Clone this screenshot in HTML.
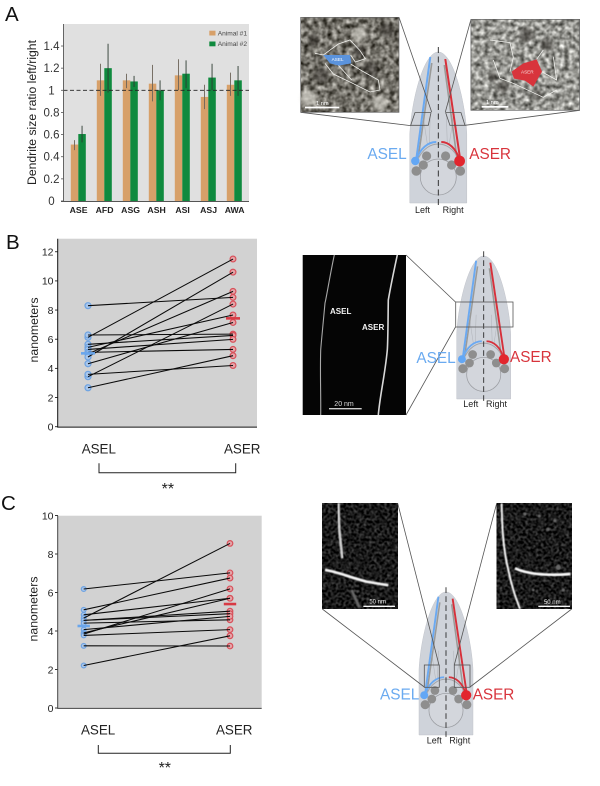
<!DOCTYPE html>
<html lang="en">
<head>
<meta charset="utf-8">
<title>ASEL and ASER dendrite size comparison</title>
<style>
html,body{margin:0;padding:0;background:#fff;width:600px;height:786px;overflow:hidden}
svg{display:block;font-family:"Liberation Sans",sans-serif;filter:blur(0.3px)}
</style>
</head>
<body>
<svg id="fig" width="600" height="786" viewBox="0 0 600 786">
<defs>
<filter id="emLeft" x="0" y="0" width="100%" height="100%" color-interpolation-filters="sRGB">
<feTurbulence type="fractalNoise" baseFrequency="0.07" numOctaves="3" seed="4"/>
<feColorMatrix values="1 0 0 0 0  1 0 0 0 0  1 0 0 0 0  0 0 0 0 1"/>
<feGaussianBlur stdDeviation="1.2"/>
<feColorMatrix values="1.15 0 0 0 -0.12  1.15 0 0 0 -0.13  1.15 0 0 0 -0.16  0 0 0 0 1"/>
</filter>
<filter id="emRight" x="0" y="0" width="100%" height="100%" color-interpolation-filters="sRGB">
<feTurbulence type="fractalNoise" baseFrequency="0.075" numOctaves="3" seed="11"/>
<feColorMatrix values="1 0 0 0 0  1 0 0 0 0  1 0 0 0 0  0 0 0 0 1"/>
<feGaussianBlur stdDeviation="1.2"/>
<feColorMatrix values="1.15 0 0 0 0.02  1.15 0 0 0 0.02  1.15 0 0 0 0  0 0 0 0 1"/>
</filter>
<filter id="emDark" x="0" y="0" width="100%" height="100%" color-interpolation-filters="sRGB">
<feTurbulence type="fractalNoise" baseFrequency="0.13" numOctaves="2" seed="7"/>
<feColorMatrix values="1 0 0 0 0  1 0 0 0 0  1 0 0 0 0  0 0 0 0 1"/>
<feGaussianBlur stdDeviation="1.2"/>
<feColorMatrix values="0.8 0 0 0 -0.3  0.8 0 0 0 -0.3  0.8 0 0 0 -0.3  0 0 0 0 1"/>
</filter>
<filter id="soft" x="-20%" y="-20%" width="140%" height="140%"><feGaussianBlur stdDeviation="1.4"/></filter>
<filter id="softThin" x="-20%" y="-20%" width="140%" height="140%"><feGaussianBlur stdDeviation="0.35"/></filter>
<filter id="softer" x="-20%" y="-20%" width="140%" height="140%"><feGaussianBlur stdDeviation="5"/></filter>
<g id="worm">
<path d="M-28.5 151 L-28.5 82 C-27 50 -15 0 0 0 C15 0 27 50 28.5 82 L28.5 151 Z" fill="#cfd3da" stroke="#bfc2c8" stroke-width="0.5"/>
<path d="M-8 62 L-9 92 M8 62 L9 92 M-15 62 C-14 75 -12 84 -11 92 M15 62 C14 75 12 84 11 92" fill="none" stroke="#b3b6bc" stroke-width="0.6"/>
<circle cx="0" cy="125" r="18" fill="#d3d6dc" stroke="#9c9ea3" stroke-width="0.8"/>
<path d="M-22 111 C-16 95 -6 92 0 92 C6 92 16 95 22 111" fill="none" stroke="#a2a4a8" stroke-width="1"/>
<path d="M-6.5 11 L-20 105" stroke="#9a9a98" stroke-width="1.6" fill="none"/>
<path d="M6 13 L18.5 105" stroke="#9a9a98" stroke-width="1.6" fill="none"/>
<path d="M-8 5 L-22 107" stroke="#6aa9f2" stroke-width="2" fill="none"/>
<path d="M7 7 L22 108" stroke="#d7303a" stroke-width="2" fill="none"/>
<path d="M-22 108 C-18 96 -10 90 -2 90" stroke="#6aa9f2" stroke-width="1.9" fill="none"/>
<path d="M21 108 C18 96 10 90 3 90" stroke="#d7303a" stroke-width="1.9" fill="none"/>
<g fill="#8e8e8e">
<circle cx="-11.7" cy="104" r="4.6"/><circle cx="-15" cy="113" r="4.6"/><circle cx="-22" cy="119" r="4.8"/>
<circle cx="7.3" cy="104" r="4.6"/><circle cx="13.3" cy="113" r="4.6"/><circle cx="22" cy="119" r="4.8"/>
</g>
<circle cx="-23" cy="109" r="4.2" fill="#63a7f5"/>
<circle cx="21.3" cy="109" r="5.4" fill="#e2262e"/>
<path d="M0 -5 L0 155" stroke="#222" stroke-width="0.9" stroke-dasharray="6 3.5" fill="none"/>
</g>
</defs>

<!-- Panel letters -->
<text x="5" y="21" font-size="20.5" fill="#111">A</text>
<text x="6" y="249" font-size="20.5" fill="#111">B</text>
<text x="1" y="510" font-size="20.5" fill="#111">C</text>

<g id="chartA"></g>
<g id="chartB"></g>
<g id="chartC"></g>

<!-- Panel A diagram -->
<g>
  <use href="#worm" transform="translate(438.3,52)"/>
  <g transform="translate(280,0) scale(0.3333)" fill="none" stroke="#555" stroke-width="2.4">
    <path d="M357 52 L455 336 M62 337 L392 377 M573 58 L496 336 M899 331 L555 376"/>
    <path d="M405 338 L453 338 L445 376 L392 376 Z M497 338 L543 338 L555 376 L510 376 Z"/>
  </g>
  <g transform="translate(280,0) scale(0.3333)">
    <rect x="62" y="52" width="295" height="285" filter="url(#emLeft)"/>
    <rect x="62" y="52" width="295" height="285" fill="none" stroke="#666" stroke-width="2"/>
    <g fill="#2e2c26" opacity="0.5" filter="url(#softer)">
      <circle cx="125" cy="225" r="22"/><circle cx="270" cy="210" r="24"/><circle cx="320" cy="90" r="22"/><circle cx="240" cy="155" r="18"/><circle cx="100" cy="120" r="18"/>
    </g>
    <g fill="#e4e2da" opacity="0.6" filter="url(#softer)">
      <circle cx="85" cy="295" r="24"/><circle cx="300" cy="310" r="22"/><circle cx="240" cy="100" r="20"/>
    </g>
    <path d="M105 160 L130 165 L175 132 L210 120 L240 152 L256 176 L226 186 L212 165 M135 190 L160 222 L210 246 L270 276 L300 270 L295 240 L250 215 L212 192 M175 196 L215 240" fill="none" stroke="#eeeeea" stroke-width="2.4"/>
    <polygon points="130,165 210,165 214,190 176,197 150,190" fill="#5b93dc"/>
    <text x="155" y="183" font-size="14" fill="#fff">ASEL</text>
    <rect x="75" y="320" width="103" height="5" fill="#fff"/>
    <text x="108" y="315" font-size="17" fill="#fff">1 nm</text>
  </g>
  <g transform="translate(280,0) scale(0.3333)">
    <rect x="573" y="58" width="326" height="273" filter="url(#emRight)"/>
    <rect x="573" y="58" width="326" height="273" fill="none" stroke="#666" stroke-width="2"/>
    <g fill="#2e2c26" opacity="0.5" filter="url(#softer)">
      <circle cx="670" cy="260" r="20"/><circle cx="740" cy="105" r="22"/><circle cx="800" cy="135" r="20"/><circle cx="640" cy="230" r="14"/><circle cx="770" cy="285" r="16"/>
    </g>
    <path d="M630 120 L690 128 L700 172 L690 215 M640 180 L660 235 L700 250 L790 292 L830 270 M785 215 L830 240 L820 170 M770 178 L790 150" fill="none" stroke="#f0f0ec" stroke-width="2.4"/>
    <polygon points="695,215 730,190 770,178 786,215 760,260 735,242 702,236" fill="#d8343c"/>
    <text x="723" y="221" font-size="14" fill="#f6dede">ASER</text>
    <rect x="605" y="318" width="80" height="5" fill="#fff"/>
    <text x="618" y="312" font-size="17" fill="#fff">1 nm</text>
  </g>
  <text x="367.4" y="159" font-size="15.4" fill="#6aaaf0">ASEL</text>
  <text x="469.3" y="159" font-size="15.3" fill="#d8343c">ASER</text>
  <text x="415" y="213" font-size="9" fill="#222">Left</text>
  <text x="442.6" y="213" font-size="9" fill="#222">Right</text>
</g>

<!-- Panel B diagram -->
<g>
  <rect x="302.7" y="255" width="103.3" height="160" fill="#050505"/>
  <g fill="none" filter="url(#softThin)">
    <path d="M334.3 255 C330 275 326 300 325 303 C323 325 321 345 320.7 350 C320 375 321 395 320.7 415" stroke="#a8a8a8" stroke-width="1.1"/>
    <path d="M397.3 255 C393 275 390 290 388.3 300 C388 320 388 340 387.3 350 C385 375 380 395 378.3 415" stroke="#d8d8d8" stroke-width="1.6"/>
  </g>
  <text x="330" y="314" font-size="8" font-weight="bold" fill="#f4f4f4">ASEL</text>
  <text x="362" y="330" font-size="8" font-weight="bold" fill="#f4f4f4">ASER</text>
  <rect x="329" y="408" width="32.7" height="1.4" fill="#ccc"/>
  <text x="334.3" y="406" font-size="7" fill="#ddd">20 nm</text>
  <use href="#worm" transform="translate(483.7,256) scale(0.947)"/>
  <g fill="none" stroke="#555" stroke-width="0.8">
    <path d="M406 255 L455.5 302 M406 415 L455.5 327"/>
    <rect x="455.7" y="302" width="57.3" height="25"/>
  </g>
  <text x="416.4" y="363" font-size="15.4" fill="#6aaaf0">ASEL</text>
  <text x="510" y="362" font-size="15.3" fill="#d8343c">ASER</text>
  <text x="463.3" y="407" font-size="9" fill="#222">Left</text>
  <text x="486" y="407" font-size="9" fill="#222">Right</text>
</g>

<!-- Panel C diagram -->
<g>
  <g transform="translate(300,490) scale(0.3333)">
    <rect x="67" y="40" width="226" height="317" filter="url(#emDark)"/>
    <path d="M115 40 L118 120 L127 205" fill="none" stroke="#eee" stroke-width="8" filter="url(#soft)" opacity="0.85"/>
    <path d="M75 240 C110 245 150 262 200 275 L265 286" fill="none" stroke="#f5f5f5" stroke-width="8" filter="url(#soft)"/>
    <path d="M155 300 L178 352" fill="none" stroke="#666" stroke-width="8" filter="url(#soft)"/>
    <rect x="190" y="347" width="95" height="4" fill="#fff"/>
    <text x="208" y="340" font-size="18" fill="#eee">50 nm</text>
  </g>
  <g transform="translate(300,490) scale(0.3333)">
    <rect x="590" y="40" width="225" height="317" filter="url(#emDark)"/>
    <path d="M605 40 C606 100 608 170 625 240 C635 290 648 325 660 357" fill="none" stroke="#f5f5f5" stroke-width="6" filter="url(#soft)"/>
    <path d="M645 235 C680 252 740 258 811 252" fill="none" stroke="#fafafa" stroke-width="8" filter="url(#soft)"/>
    <g fill="#666" filter="url(#soft)"><circle cx="675" cy="72" r="5"/><circle cx="718" cy="78" r="5"/><circle cx="745" cy="118" r="5"/><circle cx="765" cy="92" r="5"/><circle cx="790" cy="300" r="5"/><circle cx="700" cy="300" r="4"/><circle cx="775" cy="232" r="8"/></g>
    <rect x="715" y="347" width="95" height="4" fill="#fff"/>
    <text x="732" y="342" font-size="18" fill="#eee">50 nm</text>
  </g>
  <use href="#worm" transform="translate(446,592) scale(0.947)"/>
  <g fill="none" stroke="#555" stroke-width="0.8">
    <path d="M397.7 503.3 L439 665 M322.3 609 L424.3 687 M496.7 503.3 L454.3 665 M571.7 609 L470 687"/>
    <rect x="424.3" y="665" width="15" height="22.3"/>
    <rect x="454.3" y="665" width="15.7" height="22.3"/>
  </g>
  <text x="380" y="699.3" font-size="15.4" fill="#6aaaf0">ASEL</text>
  <text x="472.7" y="699.3" font-size="15.3" fill="#d8343c">ASER</text>
  <text x="426.7" y="743.3" font-size="9" fill="#222">Left</text>
  <text x="449.3" y="743.3" font-size="9" fill="#222">Right</text>
</g>
</svg>

<script>
// ---------- Panel A data ----------
const aCategories = ['ASE', 'AFD', 'ASG', 'ASH', 'ASI', 'ASJ', 'AWA'];
const aAnimal1 = [0.51, 1.09, 1.09, 1.06, 1.135, 0.94, 1.05];
const aAnimal2 = [0.605, 1.20, 1.08, 1.00, 1.15, 1.115, 1.09];
const aAnimal1Hi = [0.55, 1.24, 1.15, 1.23, 1.28, 1.05, 1.16];
const aAnimal1Lo = [0.46, 0.95, 1.02, 0.90, 1.00, 0.83, 0.95];
const aAnimal2Hi = [0.68, 1.42, 1.13, 1.09, 1.27, 1.24, 1.22];
const aAnimal2Lo = [0.53, 0.98, 1.03, 0.91, 1.02, 1.00, 0.95];
const aTicks = ['0', '0.2', '0.4', '0.6', '0.8', '1', '1.2', '1.4'];
const aLegend = ['Animal #1', 'Animal #2'];

// ---------- Panel B data ----------
const bTicks = [0, 2, 4, 6, 8, 10, 12];
const bLeft = [8.3, 6.13, 6.29, 5.65, 5.44, 5.3, 5.1, 5.0, 4.78, 4.32, 3.43, 3.59, 2.67];
const bRight = [8.87, 11.5, 6.35, 6.26, 7.66, 5.99, 5.3, 9.28, 10.6, 7.15, 8.41, 4.2, 4.87];
const bMeans = [5.03, 7.43];

// ---------- Panel C data ----------
const cTicks = [0, 2, 4, 6, 8, 10];
const cLeft = [6.18, 5.1, 4.84, 4.67, 4.55, 4.55, 4.41, 4.07, 3.9, 3.84, 3.77, 3.23, 2.21];
const cRight = [7.02, 6.75, 5.7, 8.55, 5.03, 4.9, 4.58, 4.76, 5.7, 6.19, 4.07, 3.22, 3.75];
const cMeans = [4.26, 5.4];

const NS = 'http://www.w3.org/2000/svg';
function mk(parent, tag, attrs, txt) {
  const el = document.createElementNS(NS, tag);
  for (const k in attrs) el.setAttribute(k, attrs[k]);
  if (txt !== undefined) el.textContent = txt;
  parent.appendChild(el);
  return el;
}

// ---------- Panel A ----------
(function () {
  const g = document.getElementById('chartA');
  const y = v => 201 - v * 110.7;
  const groupX = i => 78.3 + i * 26;
  const barW = 7.5;

  const bg = mk(g, 'rect', { x: 63.5, y: 24, width: 185.5, height: 177, fill: '#e0e0e0' });
  
  

  aCategories.forEach((c, i) => {
    const x = groupX(i);
    const b1 = mk(g, 'rect', { x: x - barW, y: y(aAnimal1[i]), width: barW, height: 201 - y(aAnimal1[i]), fill: '#d7a069' });
    
    
    const b2 = mk(g, 'rect', { x: x, y: y(aAnimal2[i]), width: barW, height: 201 - y(aAnimal2[i]), fill: '#0f8a3e' });
    
    
    const e1 = mk(g, 'line', { x1: x - barW / 2, x2: x - barW / 2, y1: y(aAnimal1Hi[i]), y2: y(aAnimal1Lo[i]), stroke: '#6d6459', 'stroke-width': 0.9 });
    
    
    const e2 = mk(g, 'line', { x1: x + barW / 2, x2: x + barW / 2, y1: y(aAnimal2Hi[i]), y2: y(aAnimal2Lo[i]), stroke: '#2c3a30', 'stroke-width': 0.9 });
    
    
    const t = mk(g, 'text', { x: x + 0.3, y: 213, 'font-size': 8.7, 'font-weight': 'bold', 'text-anchor': 'middle', fill: '#222' }, c);
    
    
  });

  const ref = mk(g, 'line', { x1: 63.5, x2: 249, y1: y(1), y2: y(1), stroke: '#222', 'stroke-width': 0.8, 'stroke-dasharray': '4 2.5' });
  
  

  aTicks.forEach(v => {
    const yy = y(parseFloat(v));
    const tk = mk(g, 'line', { x1: 61, x2: 63.5, y1: yy, y2: yy, stroke: '#555', 'stroke-width': 0.8 });
    
    
    const t = mk(g, 'text', { x: 51.5, y: yy + 4, 'font-size': 11.5, 'text-anchor': 'middle', fill: '#333' }, v);
    
    
  });

  const ax = mk(g, 'path', { d: 'M63.5 24 L63.5 201.5 M61 201.5 L249 201.5', fill: 'none', stroke: '#555', 'stroke-width': 0.9 });
  
  

  const yt = mk(g, 'text', { x: 36, y: 112.5, 'font-size': 12.2, 'text-anchor': 'middle', fill: '#222', transform: 'rotate(-90 36 112.5)' }, 'Dendrite size ratio left/right');
  
  

  const cols = ['#d7a069', '#0f8a3e'];
  aLegend.forEach((s, i) => {
    const r = mk(g, 'rect', { x: 209.3, y: 30.7 + i * 10.8, width: 6.2, height: 4.8, fill: cols[i] });
    
    
    const t = mk(g, 'text', { x: 217.7, y: 35.3 + i * 10.8, 'font-size': 6.6, fill: '#444' }, s);
    
    
  });
})();

// ---------- Paired charts ----------
function paired(g, o) {
  const y = v => o.y0 - v * o.pxPerUnit;

  const bg = mk(g, 'rect', { x: o.left, y: o.top, width: o.right - o.left, height: o.y0 - o.top, fill: '#d2d2d2' });
  
  

  o.leftVals.forEach(v => {
    const c = mk(g, 'circle', { cx: o.xL, cy: y(v), r: o.rL, fill: '#a9c6ea', stroke: '#6ea3e2', 'stroke-width': 1.2 });
    
    
  });
  o.rightVals.forEach(v => {
    const c = mk(g, 'circle', { cx: o.xR, cy: y(v), r: o.rR, fill: '#e4a4a8', stroke: '#d8505a', 'stroke-width': 1.2 });
    
    
  });
  o.leftVals.forEach((v, i) => {
    const l = mk(g, 'line', { x1: o.xL, y1: y(v), x2: o.xR, y2: y(o.rightVals[i]), stroke: '#0a0a0a', 'stroke-width': 1.05 });
    
    
  });

  const mL = mk(g, 'rect', { x: o.xL - o.mw, y: y(o.means[0]) - 1.3, width: o.mw * 2, height: 2.6, fill: '#6aa6ec' });
  
  
  const mR = mk(g, 'rect', { x: o.xR - o.mw, y: y(o.means[1]) - 1.3, width: o.mw * 2, height: 2.6, fill: '#d83a44' });
  
  

  o.ticks.forEach(v => {
    const yy = y(v);
    const tk = mk(g, 'line', { x1: 55, x2: 58, y1: yy, y2: yy, stroke: '#222', 'stroke-width': 0.9 });
    
    
    const t = mk(g, 'text', { x: 53.5, y: yy + 3.8, 'font-size': 10.5, 'text-anchor': 'end', fill: '#222' }, String(v));
    
    
  });

  const ax = mk(g, 'path', { d: 'M57.7 ' + o.top + ' L57.7 ' + (o.y0 + 0.4) + ' L' + o.right + ' ' + (o.y0 + 0.4), fill: 'none', stroke: o.axis, 'stroke-width': 1 });
  
  

  const yt = mk(g, 'text', { x: o.titleX, y: o.titleY, 'font-size': 12.3, 'text-anchor': 'middle', fill: '#222', transform: 'rotate(-90 ' + o.titleX + ' ' + o.titleY + ')' }, 'nanometers');
  
  

  const tL = mk(g, 'text', { x: o.aselX, y: o.labelY, 'font-size': 13.4, fill: '#222' }, 'ASEL');
  
  
  const tR = mk(g, 'text', { x: o.aserX, y: o.labelY, 'font-size': 13.4, fill: '#222' }, 'ASER');
  
  

  const br = mk(g, 'path', { d: 'M' + o.bx0 + ' ' + o.by0 + ' V' + o.by1 + ' H' + o.bx1 + ' V' + o.by0, fill: 'none', stroke: '#222', 'stroke-width': 1 });
  
  
  const st = mk(g, 'text', { x: (o.bx0 + o.bx1) / 2 + 0.5, y: o.starY, 'font-size': 16, 'text-anchor': 'middle', fill: '#222' }, '**');
  
  
}

paired(document.getElementById('chartB'), {
  left: 58, right: 257, top: 238.7, y0: 426.7, pxPerUnit: 14.58,
  xL: 88, xR: 233, rL: 3, rR: 2.9, mw: 7, axis: '#111',
  leftVals: bLeft, rightVals: bRight, means: bMeans, ticks: bTicks,
  titleX: 38, titleY: 330, aselX: 81.7, aserX: 224, labelY: 453.3,
  bx0: 99, bx1: 235.7, by0: 463.3, by1: 472.7, starY: 494
});
paired(document.getElementById('chartC'), {
  left: 58, right: 261.7, top: 515.7, y0: 708, pxPerUnit: 19.25,
  xL: 83.7, xR: 230, rL: 2.4, rR: 2.8, mw: 6.2, axis: '#444',
  leftVals: cLeft, rightVals: cRight, means: cMeans, ticks: cTicks,
  titleX: 37.3, titleY: 609, aselX: 81, aserX: 216, labelY: 734.3,
  bx0: 98.3, bx1: 230.3, by0: 745, by1: 753.3, starY: 773
});
</script>
</body>
</html>
